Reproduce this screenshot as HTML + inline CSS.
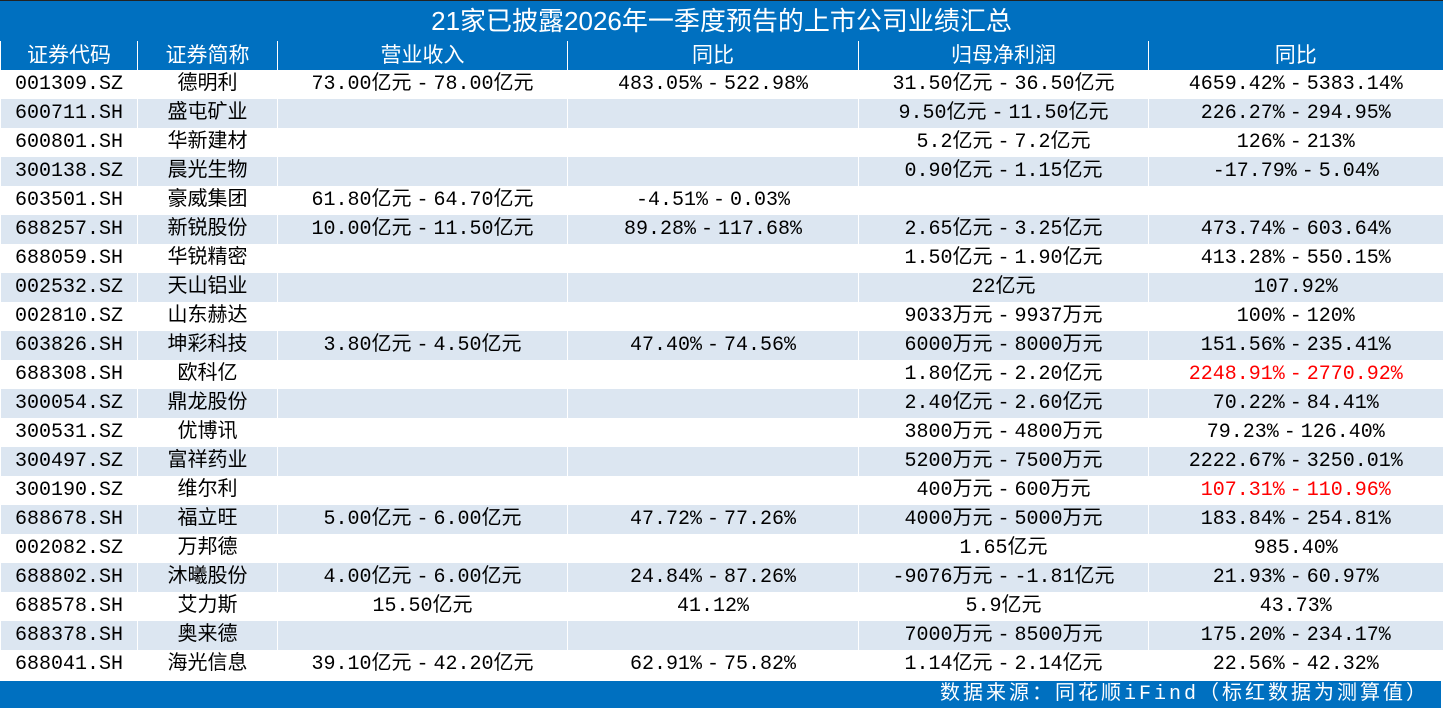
<!DOCTYPE html>
<html><head><meta charset="utf-8"><style>
body{margin:0;width:1443px;height:711px;background:#fff;overflow:hidden}
.t{position:absolute;left:0;top:0;width:1443px;height:41px;background:#0070c0;color:#fff;font:26px "Liberation Sans","Noto Sans CJK SC",sans-serif;text-align:center;line-height:41px;border-top:1px solid #222;box-sizing:border-box}
table{position:absolute;left:0;top:41px;border-collapse:collapse;table-layout:fixed;width:1442px;font:20px "Liberation Mono","Noto Sans CJK SC",monospace;color:#000}
td{height:29px;padding:0;text-align:center;white-space:nowrap;border-left:1px solid #fff;overflow:hidden;line-height:29px}
tr.h td{background:#0070c0;color:#fff;font-family:"Liberation Sans","Noto Sans CJK SC",sans-serif;font-size:21px;border-left:1px solid #fff}
tr:nth-child(odd):not(.h) td{background:#dce6f1}
tr:nth-child(even) td{background:#fff}
.r{color:#f00}
i{font-style:normal;display:inline-block;width:22px;text-align:center}
.f{position:absolute;left:0;top:681px;width:1441px;height:27px;background:#0070c0;color:#fff;font:20px "Liberation Mono","Noto Sans CJK SC",monospace;text-align:right;line-height:27px;box-sizing:border-box;padding-right:12px;letter-spacing:3px}
</style></head><body>
<div class="t">21家已披露2026年一季度预告的上市公司业绩汇总</div>
<table>
<colgroup><col style="width:137px"><col style="width:140px"><col style="width:290px"><col style="width:291px"><col style="width:290px"><col style="width:294px"></colgroup>
<tr class="h"><td>证券代码</td><td>证券简称</td><td>营业收入</td><td>同比</td><td>归母净利润</td><td>同比</td></tr>
<tr><td>001309.SZ</td><td>德明利</td><td>73.00亿元<i>-</i>78.00亿元</td><td>483.05%<i>-</i>522.98%</td><td>31.50亿元<i>-</i>36.50亿元</td><td>4659.42%<i>-</i>5383.14%</td></tr>
<tr><td>600711.SH</td><td>盛屯矿业</td><td></td><td></td><td>9.50亿元<i>-</i>11.50亿元</td><td>226.27%<i>-</i>294.95%</td></tr>
<tr><td>600801.SH</td><td>华新建材</td><td></td><td></td><td>5.2亿元<i>-</i>7.2亿元</td><td>126%<i>-</i>213%</td></tr>
<tr><td>300138.SZ</td><td>晨光生物</td><td></td><td></td><td>0.90亿元<i>-</i>1.15亿元</td><td>-17.79%<i>-</i>5.04%</td></tr>
<tr><td>603501.SH</td><td>豪威集团</td><td>61.80亿元<i>-</i>64.70亿元</td><td>-4.51%<i>-</i>0.03%</td><td></td><td></td></tr>
<tr><td>688257.SH</td><td>新锐股份</td><td>10.00亿元<i>-</i>11.50亿元</td><td>89.28%<i>-</i>117.68%</td><td>2.65亿元<i>-</i>3.25亿元</td><td>473.74%<i>-</i>603.64%</td></tr>
<tr><td>688059.SH</td><td>华锐精密</td><td></td><td></td><td>1.50亿元<i>-</i>1.90亿元</td><td>413.28%<i>-</i>550.15%</td></tr>
<tr><td>002532.SZ</td><td>天山铝业</td><td></td><td></td><td>22亿元</td><td>107.92%</td></tr>
<tr><td>002810.SZ</td><td>山东赫达</td><td></td><td></td><td>9033万元<i>-</i>9937万元</td><td>100%<i>-</i>120%</td></tr>
<tr><td>603826.SH</td><td>坤彩科技</td><td>3.80亿元<i>-</i>4.50亿元</td><td>47.40%<i>-</i>74.56%</td><td>6000万元<i>-</i>8000万元</td><td>151.56%<i>-</i>235.41%</td></tr>
<tr><td>688308.SH</td><td>欧科亿</td><td></td><td></td><td>1.80亿元<i>-</i>2.20亿元</td><td class="r">2248.91%<i>-</i>2770.92%</td></tr>
<tr><td>300054.SZ</td><td>鼎龙股份</td><td></td><td></td><td>2.40亿元<i>-</i>2.60亿元</td><td>70.22%<i>-</i>84.41%</td></tr>
<tr><td>300531.SZ</td><td>优博讯</td><td></td><td></td><td>3800万元<i>-</i>4800万元</td><td>79.23%<i>-</i>126.40%</td></tr>
<tr><td>300497.SZ</td><td>富祥药业</td><td></td><td></td><td>5200万元<i>-</i>7500万元</td><td>2222.67%<i>-</i>3250.01%</td></tr>
<tr><td>300190.SZ</td><td>维尔利</td><td></td><td></td><td>400万元<i>-</i>600万元</td><td class="r">107.31%<i>-</i>110.96%</td></tr>
<tr><td>688678.SH</td><td>福立旺</td><td>5.00亿元<i>-</i>6.00亿元</td><td>47.72%<i>-</i>77.26%</td><td>4000万元<i>-</i>5000万元</td><td>183.84%<i>-</i>254.81%</td></tr>
<tr><td>002082.SZ</td><td>万邦德</td><td></td><td></td><td>1.65亿元</td><td>985.40%</td></tr>
<tr><td>688802.SH</td><td>沐曦股份</td><td>4.00亿元<i>-</i>6.00亿元</td><td>24.84%<i>-</i>87.26%</td><td>-9076万元<i>-</i>-1.81亿元</td><td>21.93%<i>-</i>60.97%</td></tr>
<tr><td>688578.SH</td><td>艾力斯</td><td>15.50亿元</td><td>41.12%</td><td>5.9亿元</td><td>43.73%</td></tr>
<tr><td>688378.SH</td><td>奥来德</td><td></td><td></td><td>7000万元<i>-</i>8500万元</td><td>175.20%<i>-</i>234.17%</td></tr>
<tr><td>688041.SH</td><td>海光信息</td><td>39.10亿元<i>-</i>42.20亿元</td><td>62.91%<i>-</i>75.82%</td><td>1.14亿元<i>-</i>2.14亿元</td><td>22.56%<i>-</i>42.32%</td></tr>
</table>
<div class="f">数据来源：同花顺iFind（标红数据为测算值）</div>
</body></html>
